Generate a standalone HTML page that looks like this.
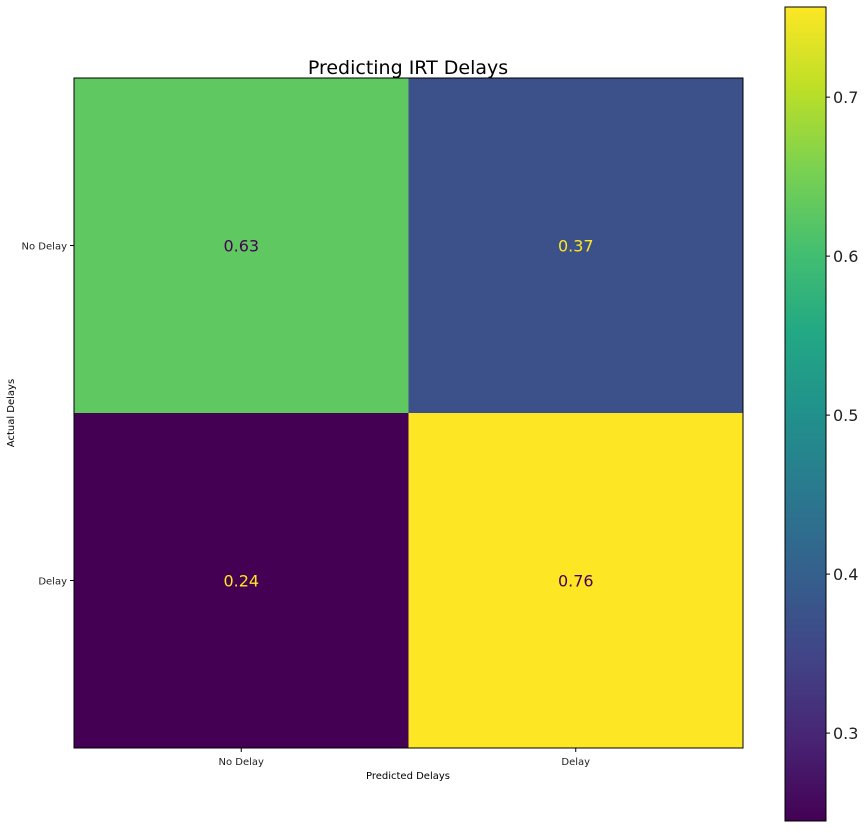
<!DOCTYPE html>
<html><head><meta charset="utf-8"><style>
body{margin:0;background:#fff;width:865px;height:829px;overflow:hidden;font-family:"DejaVu Sans","Liberation Sans",sans-serif}
</style></head><body>
<svg id="chart" width="865" height="829" xmlns="http://www.w3.org/2000/svg">
<defs><linearGradient id="vir" x1="0" y1="1" x2="0" y2="0">
<stop offset="0" stop-color="#440154"/><stop offset="0.1" stop-color="#482475"/><stop offset="0.2" stop-color="#414487"/><stop offset="0.3" stop-color="#355f8d"/><stop offset="0.4" stop-color="#2a788e"/><stop offset="0.5" stop-color="#21918c"/><stop offset="0.6" stop-color="#22a884"/><stop offset="0.7" stop-color="#44bf70"/><stop offset="0.8" stop-color="#7ad151"/><stop offset="0.9" stop-color="#bddf26"/><stop offset="1" stop-color="#fde725"/>
</linearGradient></defs>
<g id="cells"></g>
<text x="408" y="74" text-anchor="middle" font-size="19" fill="#000">Predicting IRT Delays</text>
<rect x="74" y="78" width="669" height="670" fill="none" stroke="#000" stroke-width="1"/>
<g id="ticks" font-size="10" fill="#222"></g>
<text x="408" y="779" text-anchor="middle" font-size="10">Predicted Delays</text>
<text transform="translate(14,413) rotate(-90)" text-anchor="middle" font-size="10">Actual Delays</text>
<rect x="785" y="7" width="41" height="814" fill="url(#vir)" stroke="#000" stroke-width="1"/>
<g id="cbticks" font-size="16" fill="#222"></g>
</svg>
<script>
const labels = ["No Delay", "Delay"];
const values = [[0.63, 0.37], [0.24, 0.76]];
const cbTicks = [0.3, 0.4, 0.5, 0.6, 0.7];
const vmin = 0.2447, vmax = 0.7567;
const ns = "http://www.w3.org/2000/svg";
const X0 = 74, Y0 = 78, W = 669, H = 670;
const cw = W / labels.length, ch = H / labels.length;
const stops = ["#440154","#482475","#414487","#355f8d","#2a788e","#21918c","#22a884","#44bf70","#7ad151","#bddf26","#fde725"];
function hex(h){return [1,3,5].map(i=>parseInt(h.substr(i,2),16));}
function viridis(t){t=Math.max(0,Math.min(1,t))*10;const i=Math.min(9,Math.floor(t)),f=t-i;const a=hex(stops[i]),b=hex(stops[i+1]);return "rgb("+a.map((v,k)=>Math.round(v+(b[k]-v)*f)).join(",")+")";}
const cells = document.getElementById("cells");
const ticks = document.getElementById("ticks");
values.forEach((row, r) => row.forEach((v, c) => {
  const t = (v - vmin) / (vmax - vmin);
  const rect = document.createElementNS(ns, "rect");
  rect.setAttribute("x", X0 + c * cw); rect.setAttribute("y", Y0 + r * ch);
  rect.setAttribute("width", cw + 0.5); rect.setAttribute("height", ch + 0.5);
  rect.setAttribute("fill", viridis(t));
  
  
  cells.appendChild(rect);
  const tx = document.createElementNS(ns, "text");
  tx.setAttribute("x", X0 + (c + 0.5) * cw); tx.setAttribute("y", Y0 + (r + 0.5) * ch + 6);
  tx.setAttribute("text-anchor", "middle"); tx.setAttribute("font-size", "16");
  tx.setAttribute("fill", t < 0.5 ? "#fde725" : "#440154");
  tx.textContent = v.toFixed(2);
  
  
  cells.appendChild(tx);
}));
labels.forEach((l, i) => {
  const xc = X0 + (i + 0.5) * cw, yc = Y0 + (i + 0.5) * ch;
  const xt = document.createElementNS(ns, "line");
  xt.setAttribute("x1", xc); xt.setAttribute("x2", xc); xt.setAttribute("y1", Y0 + H); xt.setAttribute("y2", Y0 + H + 4); xt.setAttribute("stroke", "#000");
  
  
  ticks.appendChild(xt);
  const xl = document.createElementNS(ns, "text");
  xl.setAttribute("x", xc); xl.setAttribute("y", Y0 + H + 17); xl.setAttribute("text-anchor", "middle"); xl.textContent = l;
  
  
  ticks.appendChild(xl);
  const yt = document.createElementNS(ns, "line");
  yt.setAttribute("x1", X0 - 4); yt.setAttribute("x2", X0); yt.setAttribute("y1", yc); yt.setAttribute("y2", yc); yt.setAttribute("stroke", "#000");
  
  
  ticks.appendChild(yt);
  const yl = document.createElementNS(ns, "text");
  yl.setAttribute("x", X0 - 7); yl.setAttribute("y", yc + 4); yl.setAttribute("text-anchor", "end"); yl.textContent = l;
  
  
  ticks.appendChild(yl);
});
const cb = document.getElementById("cbticks");
const CB0 = 7, CBH = 814;
cbTicks.forEach(v => {
  const y = CB0 + CBH * (1 - (v - vmin) / (vmax - vmin));
  const ln = document.createElementNS(ns, "line");
  ln.setAttribute("x1", 826); ln.setAttribute("x2", 830); ln.setAttribute("y1", y); ln.setAttribute("y2", y); ln.setAttribute("stroke", "#000");
  
  
  cb.appendChild(ln);
  const t = document.createElementNS(ns, "text");
  t.setAttribute("x", 833); t.setAttribute("y", y + 6); t.textContent = v.toFixed(1);
  
  
  cb.appendChild(t);
});
</script>
</body></html>
